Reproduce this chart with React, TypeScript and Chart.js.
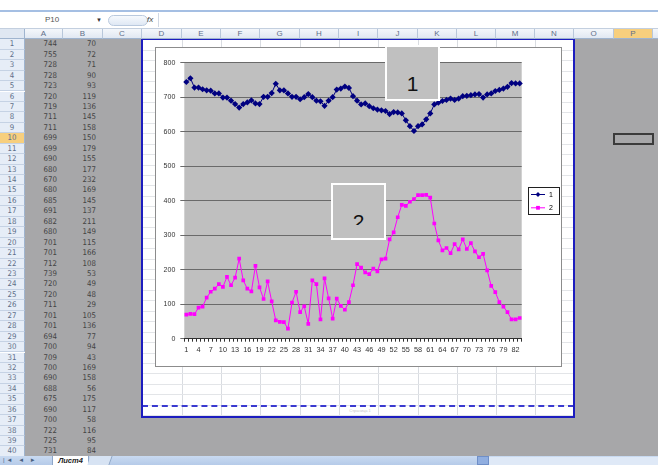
import React, { useEffect, useRef } from 'react';
import { Chart, registerables } from 'chart.js';
Chart.register(...registerables);

const FONT = '"Liberation Sans", Arial, sans-serif';
const NARROW = '"Liberation Sans Narrow", "DejaVu Sans Condensed", "Liberation Sans", Arial, sans-serif';

// Series values (column A = series "1", column B = series "2")
const series1 = [
  744, 755, 728, 728, 723, 720, 719, 711, 711, 699, 699, 690, 680, 670, 680, 685, 691, 682, 680, 701,
  701, 712, 739, 720, 720, 711, 701, 701, 694, 700, 709, 700, 690, 688, 675, 690, 700, 722, 725, 731,
  727, 703, 690, 679, 682, 674, 668, 664, 662, 660, 651, 657, 656, 653, 633, 616, 602, 616, 621, 636,
  653, 679, 684, 689, 692, 696, 692, 696, 703, 704, 706, 708, 709, 699, 708, 711, 718, 721, 725, 730,
  741, 740, 740,
];
const series2 = [
  70, 72, 71, 90, 93, 119, 136, 145, 158, 150, 179, 155, 177, 232, 169, 145, 137, 211, 149, 115,
  166, 108, 53, 49, 48, 29, 105, 136, 77, 94, 43, 169, 158, 56, 175, 117, 58, 116, 95, 84,
  106, 155, 216, 206, 192, 187, 203, 195, 230, 232, 288, 308, 352, 388, 385, 397, 405, 416, 416, 417,
  409, 334, 285, 256, 263, 248, 274, 259, 288, 260, 277, 253, 236, 246, 198, 153, 135, 106, 93, 77,
  56, 56, 60,
];
const seriesNames = ['1', '2'];
const categories = series1.map((_, i) => String(i + 1));
const yTicks = { min: 0, max: 800, step: 100 };
const colLetters = ['A', 'B', 'C', 'D', 'E', 'F', 'G', 'H', 'I', 'J', 'K', 'L', 'M', 'N', 'O', 'P', 'Q'];
const visibleRows = 40;
const sheetName = 'Лист4';
const nameBox = 'P10';

// layout (page geometry of the spreadsheet screenshot)
const colEdges = [25, 63, 103, 142, 182, 221, 260, 300, 339, 378, 418, 457, 496, 535, 574, 614, 653, 700];
const ROW_TOP = 39.3;
const ROW_H = 10.44;

const abs = (l: number, t: number, w: number, h: number, extra: React.CSSProperties = {}): React.CSSProperties => ({
  position: 'absolute', left: l, top: t, width: w, height: h, boxSizing: 'border-box', ...extra,
});

export default function App() {
  const ref = useRef<HTMLCanvasElement>(null);

  useEffect(() => {
    document.body.style.margin = '0';
    const canvas = ref.current!;
    const bgPlugin = {
      id: 'plotBg',
      beforeDraw(chart: any) {
        const { ctx, chartArea: a } = chart;
        ctx.save();
        ctx.fillStyle = '#bfbfbf';
        ctx.fillRect(a.left, a.top, a.right - a.left, a.bottom - a.top);
        ctx.restore();
      },
    };
    const legendPlugin = {
      id: 'xlLegend',
      afterDraw(chart: any) {
        const ctx = chart.ctx;
        ctx.save();
        ctx.fillStyle = '#ffffff';
        ctx.fillRect(372, 139.5, 31, 27);
        ctx.strokeStyle = '#202020';
        ctx.lineWidth = 1;
        ctx.strokeRect(372.5, 139.5, 31, 27);
        chart.data.datasets.forEach((ds: any, i: number) => {
          const y = 146.5 + i * 13.3;
          ctx.strokeStyle = ds.borderColor;
          ctx.lineWidth = 1;
          ctx.beginPath();
          ctx.moveTo(375, y);
          ctx.lineTo(389, y);
          ctx.stroke();
          ctx.fillStyle = ds.borderColor;
          ctx.beginPath();
          if (i === 0) {
            ctx.moveTo(382, y - 2.4);
            ctx.lineTo(384.4, y);
            ctx.lineTo(382, y + 2.4);
            ctx.lineTo(379.6, y);
            ctx.closePath();
          } else {
            ctx.rect(380.1, y - 1.9, 3.8, 3.8);
          }
          ctx.fill();
          ctx.fillStyle = '#000';
          ctx.font = `7px ${FONT}`;
          ctx.textBaseline = 'middle';
          ctx.textAlign = 'left';
          ctx.fillText(ds.label, 393, y + 0.5);
        });
        ctx.restore();
      },
    };
    const chart = new Chart(canvas, {
      type: 'line',
      data: {
        labels: categories,
        datasets: [
          {
            label: seriesNames[0], data: series1, borderColor: '#000080', backgroundColor: '#000080',
            borderWidth: 1, pointStyle: 'rectRot', pointRadius: 3.1, pointBorderWidth: 0, tension: 0,
          },
          {
            label: seriesNames[1], data: series2, borderColor: '#ff00ff', backgroundColor: '#ff00ff',
            borderWidth: 1, pointStyle: 'rect', pointRadius: 2.6, pointBorderWidth: 0, tension: 0,
          },
        ],
      },
      options: {
        animation: false,
        responsive: false,
        layout: { padding: { left: 0, top: 14.7, right: 39.3, bottom: 0 } },
        plugins: { legend: { display: false }, tooltip: { enabled: false } },
        scales: {
          x: {
            type: 'category',
            offset: true,
            grid: { offset: true, drawOnChartArea: false, drawTicks: true, tickLength: 3, color: '#303030', lineWidth: 1 },
            border: { display: true, color: '#303030', width: 1 },
            ticks: {
              autoSkip: false, maxRotation: 0, minRotation: 0, padding: 4, color: '#333',
              font: { size: 7.3, family: FONT },
              callback: (_v: any, i: number) => (i % 3 === 0 ? categories[i] : ''),
            },
            afterFit: (s: any) => { s.height = 27.3; },
          },
          y: {
            min: yTicks.min, max: yTicks.max,
            ticks: { stepSize: yTicks.step, padding: 5, color: '#333', font: { size: 7, family: FONT } },
            grid: { color: '#6a6a6a', lineWidth: 1, tickLength: 4 },
            border: { display: false },
            afterFit: (s: any) => { s.width = 28.3; },
          },
        },
      } as any,
      plugins: [bgPlugin, legendPlugin],
    });
    return () => chart.destroy();
  }, []);

  const els: React.ReactNode[] = [];

  // base gray (outside print area)
  els.push(<div key="gray" style={abs(25, 39, 633, 417, { background: '#a7a7a9' })} />);
  // print area white
  els.push(<div key="print" style={abs(142, 39, 432, 378, { background: '#ffffff' })} />);
  // light grid inside print area
  for (let c = 4; c <= 13; c++) {
    els.push(<div key={'vg' + c} style={abs(colEdges[c], 39, 1, 378, { background: '#d9dce1' })} />);
  }
  for (let r = 1; r <= 36; r++) {
    els.push(<div key={'hg' + r} style={abs(142, ROW_TOP + r * ROW_H, 432, 1, { background: '#e3e5e8' })} />);
  }
  // page break dashed line and print area border
  els.push(<div key="dash" style={abs(142, ROW_TOP + 35 * ROW_H, 432, 2, { borderTop: '2px dashed #3a3ad0' })} />);
  els.push(<div key="pgtxt" style={abs(330, 408, 60, 6, { font: `4px ${FONT}`, color: '#c8c8c8', textAlign: 'center' })}>Страница 1</div>);
  els.push(<div key="pborder" style={abs(141, 38, 434, 380, { border: '2px solid #1d1dbf' })} />);

  // cell values in A and B
  for (let r = 0; r < visibleRows; r++) {
    const t = ROW_TOP + r * ROW_H;
    els.push(
      <div key={'a' + r} style={abs(colEdges[0], t, colEdges[1] - colEdges[0] - 6, ROW_H, { font: `7.8px ${NARROW}`, lineHeight: ROW_H + 'px', textAlign: 'right', color: '#444' })}>{series1[r]}</div>,
    );
    els.push(
      <div key={'b' + r} style={abs(colEdges[1], t, colEdges[2] - colEdges[1] - 7, ROW_H, { font: `7.8px ${NARROW}`, lineHeight: ROW_H + 'px', textAlign: 'right', color: '#444' })}>{series2[r]}</div>,
    );
  }

  // selected cell P10
  els.push(<div key="sel" style={abs(colEdges[15] - 1, ROW_TOP + 9 * ROW_H, colEdges[16] - colEdges[15] + 2, ROW_H + 1.5, { border: '2px solid #3b3b3b' })} />);

  // row headers
  for (let r = 0; r < visibleRows + 1; r++) {
    const t = ROW_TOP + r * ROW_H;
    const hl = r === 9;
    els.push(
      <div key={'rh' + r} style={abs(0, t, 25, ROW_H, {
        background: hl ? '#f7cf7e' : '#e6edf7', borderBottom: '1px solid #c5d2e4', borderRight: '1px solid #9fb4cf',
        font: `7.8px ${NARROW}`, lineHeight: ROW_H - 1 + 'px', textAlign: 'center', color: '#5f6f89',
      })}>{r + 1}</div>,
    );
  }

  // top chrome
  els.push(<div key="top" style={abs(0, 0, 658, 10, { background: '#ffffff' })} />);
  els.push(<div key="band" style={abs(0, 9.5, 658, 2.5, { background: '#a5bfe3' })} />);
  els.push(<div key="fbar" style={abs(0, 12, 658, 16.5, { background: '#ffffff', borderBottom: '1px solid #c3cfdf' })} />);
  els.push(<div key="nbox" style={abs(0, 14, 104, 12, { font: `8px ${FONT}`, lineHeight: '12px', textAlign: 'center', color: '#555' })}>{nameBox}</div>);
  els.push(<div key="ndd" style={abs(96, 14, 8, 12, { font: `6px ${FONT}`, lineHeight: '12px', color: '#333' })}>▼</div>);
  els.push(<div key="oval" style={abs(108, 14.5, 40, 11, { borderRadius: 6, border: '1px solid #b9c9de', background: 'linear-gradient(#f6f9fd,#dfe8f4)' })} />);
  els.push(<div key="fx" style={abs(147, 14, 12, 12, { font: `italic 8px ${FONT}`, lineHeight: '12px', color: '#444' })}>fx</div>);
  els.push(<div key="fsep" style={abs(158, 13, 1, 14, { background: '#d0d8e4' })} />);

  // column headers
  els.push(<div key="corner" style={abs(0, 28.5, 25, 10.8, { background: '#dfe7f2', borderRight: '1px solid #9fb4cf', borderBottom: '1px solid #9fb4cf' })} />);
  for (let c = 0; c < colLetters.length; c++) {
    const l = colEdges[c];
    const w = colEdges[c + 1] - l;
    const hl = c === 15;
    els.push(
      <div key={'ch' + c} style={abs(l, 28.5, w, 10.8, {
        background: hl ? '#f7cf7e' : 'linear-gradient(#f4f7fb,#e1e8f2)', borderRight: '1px solid #b8c7da', borderBottom: '1px solid #9fb4cf',
        font: `8px ${FONT}`, lineHeight: '10px', textAlign: 'center', color: '#5f6f89',
      })}>{colLetters[c]}</div>,
    );
  }

  // bottom bar
  els.push(<div key="bbar" style={abs(0, 455.5, 658, 10, { background: 'linear-gradient(#c9daf1,#b3c9e8)' })} />);
  els.push(<div key="nav" style={abs(3, 455.5, 48, 9, { font: `6px ${FONT}`, lineHeight: '9px', color: '#4a5f80', letterSpacing: 2 })}>{'|◄ ◄ ► ►|'}</div>);
  els.push(<div key="tab" style={abs(52, 455.5, 37, 9.5, { background: '#ffffff', borderLeft: '1px solid #8ea6c8', borderRight: '1px solid #8ea6c8', font: `italic bold 7.5px ${FONT}`, lineHeight: '9px', textAlign: 'center', color: '#222' })}>{sheetName}</div>);
  els.push(<div key="tab2" style={abs(89, 456, 22, 9, { background: '#d7e3f3', borderRight: '1px solid #8ea6c8', transform: 'skewX(-20deg)' })} />);
  els.push(<div key="sb1" style={abs(477, 456, 12, 9, { background: '#90aee0', border: '1px solid #6f8fc8' })} />);
  els.push(<div key="sb2" style={abs(489, 456.5, 169, 8, { background: '#dfe9f7' })} />);

  return (
    <div style={{ position: 'fixed', left: 0, top: 0, width: 658, height: 465, overflow: 'hidden', background: '#fff' }}>
      {els}
      {/* chart object */}
      <div style={abs(155, 47, 407, 320, { border: '1px solid #8c8c8c', background: '#ffffff' })}>
        <canvas ref={ref} width={405} height={318} style={{ display: 'block', width: 405, height: 318 }} />
      </div>
      {/* overlay label boxes */}
      <div style={abs(385, 45, 55, 56, { background: '#c0c0c0', border: '2px solid #ffffff', overflow: 'hidden' })}>
        <div style={abs(0, 26, 51, 21, { font: `21px ${FONT}`, lineHeight: '21px', textAlign: 'center', color: '#111' })}>1</div>
      </div>
      <div style={abs(331, 183, 55, 57, { background: '#c0c0c0', border: '2px solid #ffffff' })}>
        <div style={abs(0, 0, 51, 40, { overflow: 'hidden' })}>
          <div style={abs(0, 26, 51, 21, { font: `21px ${FONT}`, lineHeight: '21px', textAlign: 'center', color: '#111' })}>2</div>
        </div>
      </div>
    </div>
  );
}
